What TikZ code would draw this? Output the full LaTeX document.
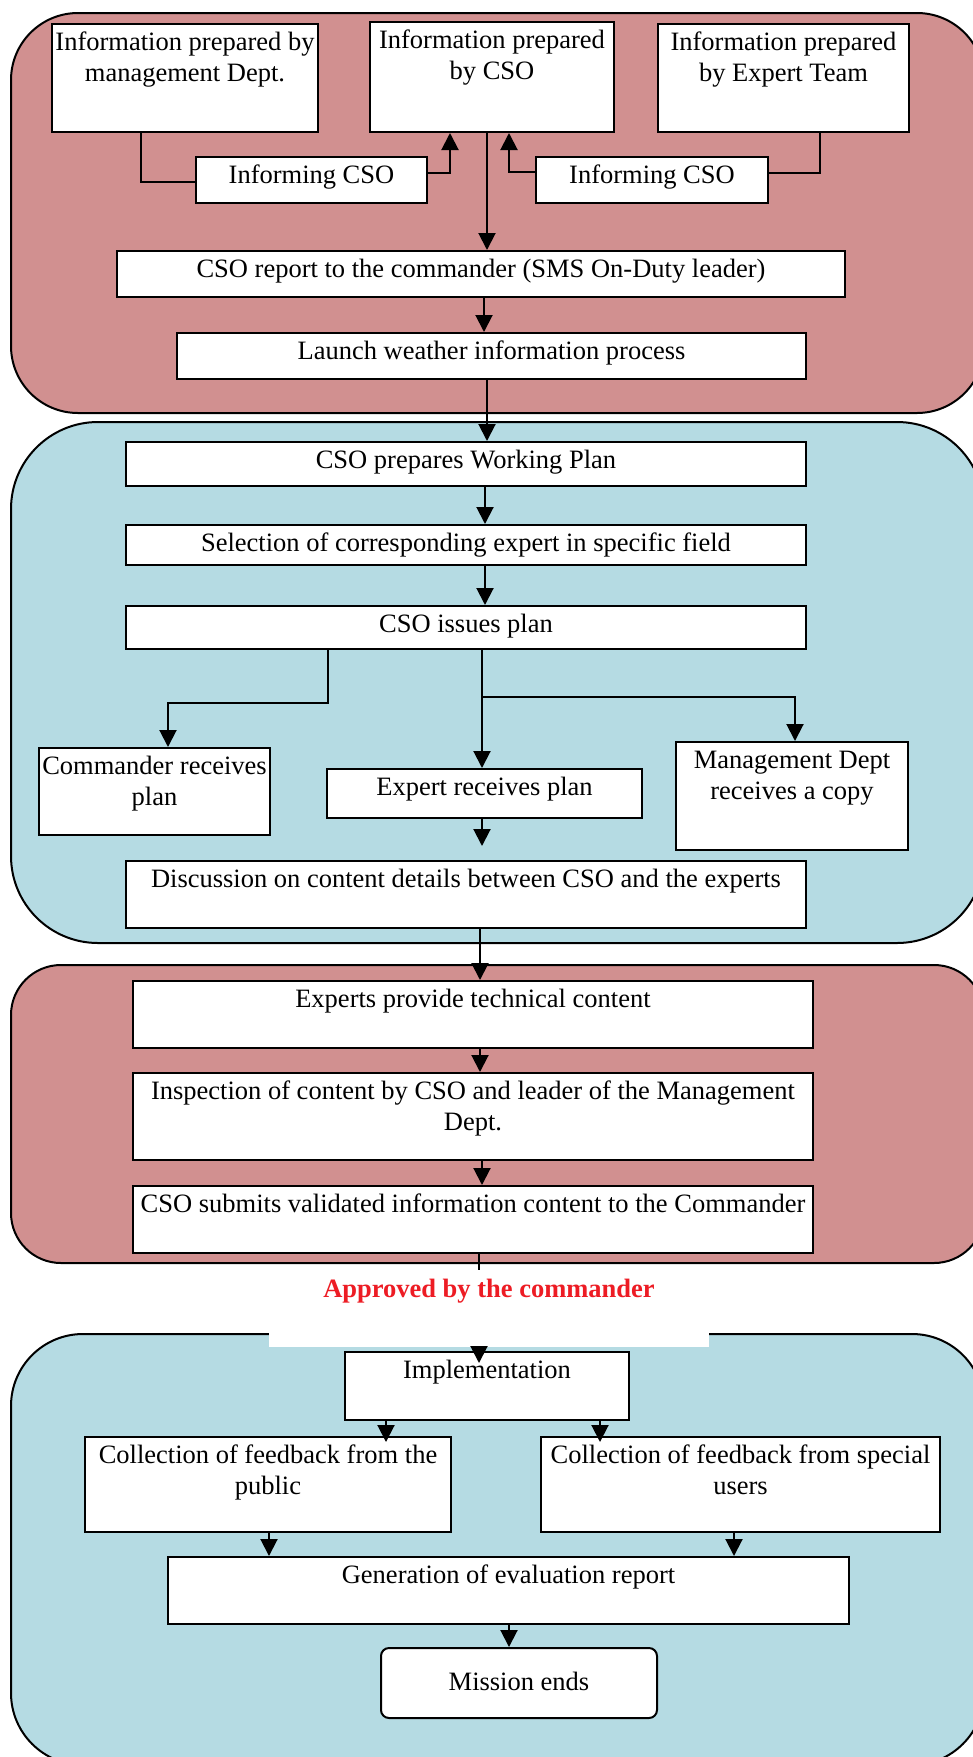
\documentclass[tikz,border=0pt]{standalone}
\usepackage{fontspec}
\setmainfont{Liberation Serif}
\usetikzlibrary{arrows.meta}

\definecolor{panelred}{RGB}{209,144,144}
\definecolor{panelblue}{RGB}{181,219,227}
\definecolor{apprred}{RGB}{237,28,36}

% box text: width and height in px, text set at the top
\newcommand{\boxtxt}[3]{\parbox[c][\dimexpr#2pt/2\relax][t]{\dimexpr#1pt/2\relax}{\centering\rule{0pt}{13pt}#3}}

\tikzset{
	box/.style={draw,fill=white,line width=1pt,inner sep=0pt,anchor=north west},
	panel/.style={draw,line width=1pt},
	link/.style={line width=1pt},
}

\begin{document}
\begin{tikzpicture}[x=0.5pt,y=-0.5pt,font=\fontsize{13.25}{15.5}\selectfont,>={Triangle[length=8.5pt,width=8.5pt]}]
	\useasboundingbox (0,0) rectangle (973,1757);
	\clip (0,0) rectangle (973,1757);
	\fill[white] (0,0) rectangle (973,1757);
	
	%PANELS
	\draw[panel,fill=panelred,rounded corners=33.5pt] (11,13) rectangle (984,413);
	\draw[panel,fill=panelblue,rounded corners=43.5pt] (11,422) rectangle (984,943);
	\draw[panel,fill=panelred,rounded corners=25pt] (11,965) rectangle (984,1263);
	\draw[panel,fill=panelblue,rounded corners=36pt] (11,1334) rectangle (984,1765);
	
	%TOP
	\node[box] (pm) at (51,23) {\boxtxt{266}{108}{Information prepared by\\management Dept.}};
	\node[box] (pc) at (369,21) {\boxtxt{244}{110}{Information prepared\\by CSO}};
	\node[box] (pe) at (657,23) {\boxtxt{251}{108}{Information prepared\\by Expert Team}};
	\node[box] (inf1) at (195,156) {\boxtxt{231}{46}{Informing CSO}};
	\node[box] (inf2) at (535,156) {\boxtxt{232}{46}{Informing CSO}};
	\node[box] (rep) at (116,250) {\boxtxt{728}{46}{CSO report to the commander (SMS On-Duty leader)}};
	\node[box] (lau) at (176,332) {\boxtxt{629}{46}{Launch weather information process}};
	%
	\draw[link] (pm.south -| 141,0) |- (inf1.west |- 0,182);
	\draw[link,->] (inf1.east |- 0,173) -| (pc.south -| 450,0);
	\draw[link,->] (inf2.west |- 0,172) -| (pc.south -| 509,0);
	\draw[link] (pe.south -| 820,0) |- (inf2.east |- 0,173);
	\draw[link,->] (pc.south -| 487,0) -- (rep.north -| 487,0);
	\draw[link,->] (rep.south -| 484,0) -- (lau.north -| 484,0);
	
	%PLAN
	\node[box] (wp) at (125,441) {\boxtxt{680}{44}{CSO prepares Working Plan}};
	\node[box] (sel) at (125,524) {\boxtxt{680}{40}{Selection of corresponding expert in specific field}};
	\node[box] (iss) at (125,605) {\boxtxt{680}{43}{CSO issues plan}};
	\node[box] (cmd) at (38,747) {\boxtxt{231}{87}{Commander receives\\plan}};
	\node[box] (exp) at (326,768) {\boxtxt{315}{49}{Expert receives plan}};
	\node[box] (mgt) at (675,741) {\boxtxt{232}{108}{Management Dept\\receives a copy}};
	\node[box] (dis) at (125,860) {\boxtxt{680}{67}{Discussion on content details between CSO and the experts}};
	%
	\draw[link,->] (lau.south -| 487,0) -- (wp.north -| 487,0);
	\draw[link,->] (wp.south -| 485,0) -- (sel.north -| 485,0);
	\draw[link,->] (sel.south -| 485,0) -- (iss.north -| 485,0);
	\draw[link,->] (iss.south -| 328,0) -- ++(0,53) -| (cmd.north -| 168,0);
	\draw[link,->] (iss.south -| 482,0) -- (exp.north -| 482,0);
	\draw[link,->] (iss.south -| 482,0) ++(0,47) -| (mgt.north -| 795,0);
	\draw[link,->,shorten >=7pt] (exp.south -| 482,0) -- (dis.north -| 482,0);
	
	%CONTENT
	\node[box] (ept) at (132,980) {\boxtxt{680}{67}{Experts provide technical content}};
	\node[box] (ins) at (132,1072) {\boxtxt{680}{87}{Inspection of content by CSO and leader of the Management\\Dept.}};
	\node[box] (sub) at (132,1185) {\boxtxt{680}{67}{CSO submits validated information content to the Commander}};
	%
	\draw[link,->] (dis.south -| 480,0) -- (ept.north -| 480,0);
	\draw[link,->] (ept.south -| 480,0) -- (ins.north -| 480,0);
	\draw[link,->] (ins.south -| 482,0) -- (sub.north -| 482,0);
	
	%APPROVAL
	\node[box,draw=none,text=apprred] (appr) at (268,1270) {\boxtxt{440}{76}{\textbf{Approved by the commander}}};
	\draw[link] (sub.south -| 479,0) -- (appr.north -| 479,0);
	
	%FEEDBACK
	\node[box] (imp) at (344,1351) {\boxtxt{284}{68}{Implementation}};
	\node[box] (pub) at (84,1436) {\boxtxt{366}{95}{Collection of feedback from the\\public}};
	\node[box] (spu) at (540,1436) {\boxtxt{399}{95}{Collection of feedback from special\\users}};
	\node[box] (gen) at (167,1556) {\boxtxt{681}{67}{Generation of evaluation report}};
	\node[box,rounded corners=4pt,minimum width=138pt,minimum height=35pt] (end) at (380,1647) {\raisebox{2pt}{Mission ends}};
	%
	\draw[link,->,shorten >=-6pt] (appr.south -| 479,0) -- (imp.north -| 479,0);
	\draw[link,->,shorten >=-3pt] (imp.south -| 386,0) -- (pub.north -| 386,0);
	\draw[link,->,shorten >=-3pt] (imp.south -| 600,0) -- (spu.north -| 600,0);
	\draw[link,->] (pub.south -| 269,0) -- (gen.north -| 269,0);
	\draw[link,->] (spu.south -| 734,0) -- (gen.north -| 734,0);
	\draw[link,->] (gen.south -| 509,0) -- (end.north -| 509,0);
\end{tikzpicture}
\end{document}
